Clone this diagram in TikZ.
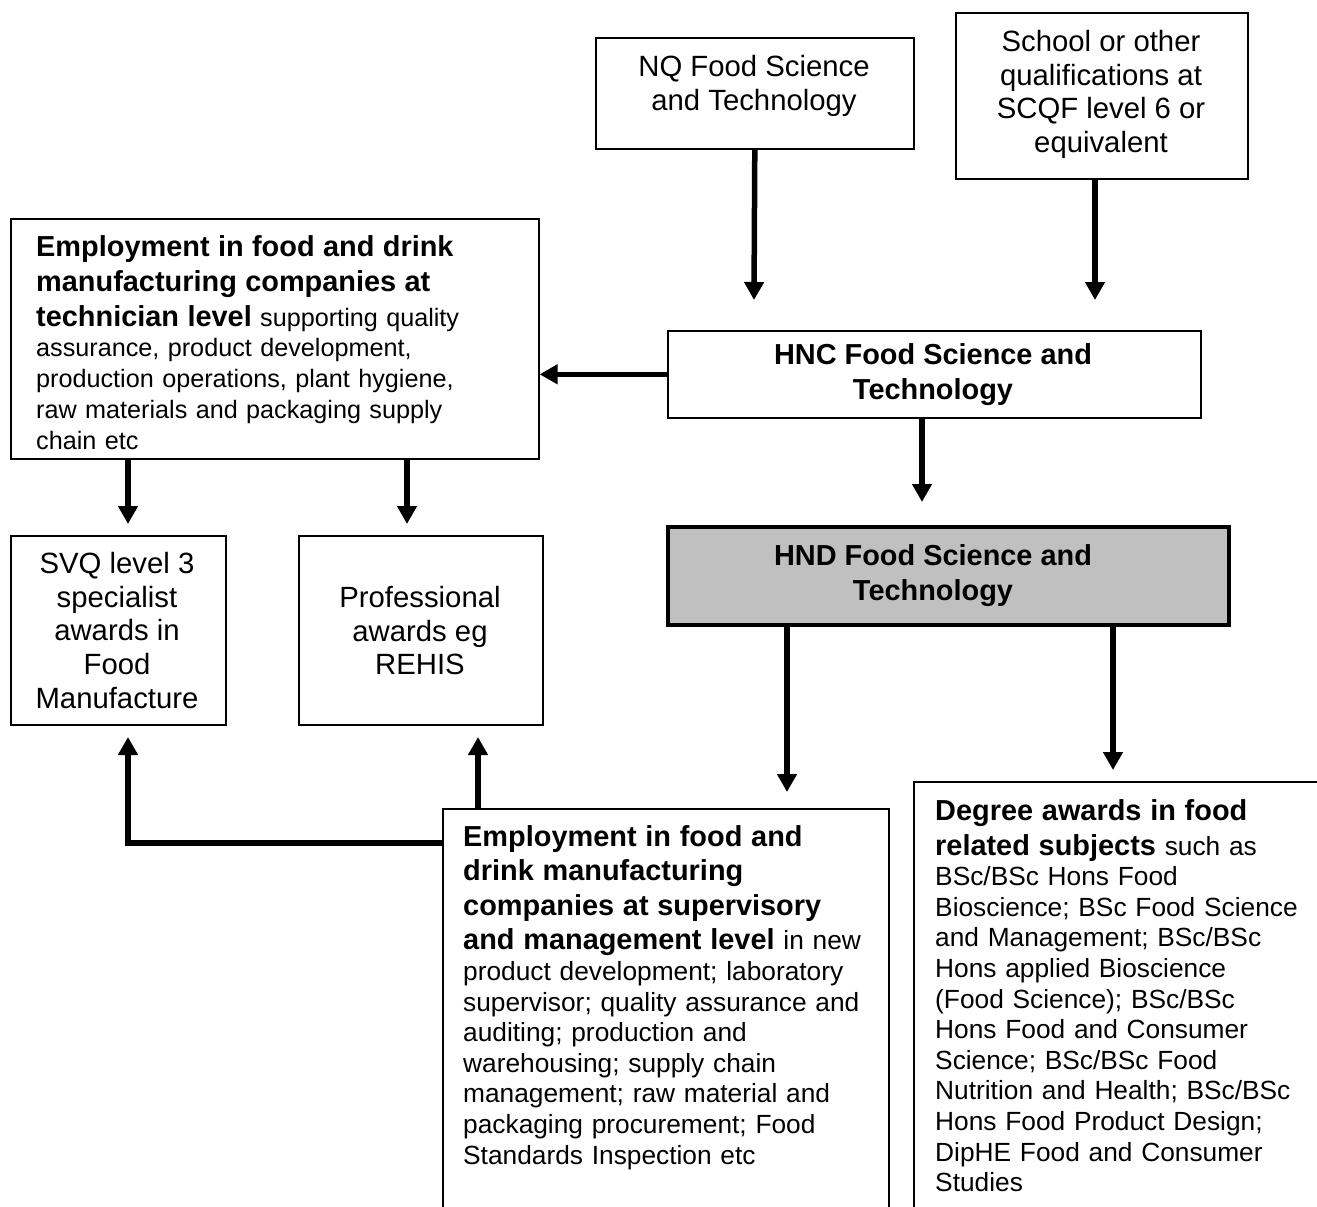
\documentclass[tikz,border=0pt]{standalone}
\usepackage{fontspec}
\setmainfont{Liberation Sans}
\usetikzlibrary{arrows.meta}
\newcommand\topf{\fontsize{29.3}{33.7}\selectfont}
\newcommand\bodyf{\fontsize{26.3}{30.6}\selectfont}
\newcommand\smallbodyf{\fontsize{25.2}{30.8}\selectfont}
\newcommand\bigb{\fontsize{28.9}{35}\selectfont\bfseries}
\begin{document}
\begin{tikzpicture}[x=1pt,y=-1pt,
  box/.style={draw, line width=1.6pt, fill=white, inner sep=0pt, anchor=north west},
  hndbox/.style={draw, line width=3.8pt, fill={rgb,255:red,192;green,192;blue,192}, inner sep=0pt, anchor=north west},
  arr/.style={line width=5.5pt, -{Triangle[length=18pt,width=19pt]}},
  ctext/.style={anchor=north, align=center, inner sep=0pt},
  ltext/.style={anchor=north west, align=left, inner sep=0pt}]
\useasboundingbox (0,0) rectangle (1317,1207);
\fill[white] (0,0) rectangle (1317,1207);
\clip (0,0) rectangle (1317,1207);

% boxes
\node[box, minimum width=318pt, minimum height=111pt] (nq) at (595,37) {};
\node[box, minimum width=292pt, minimum height=166pt] (school) at (955,12) {};
\node[box, minimum width=528pt, minimum height=240pt] (emp1) at (10,218) {};
\node[box, minimum width=533pt, minimum height=87pt] (hnc) at (667,330) {};
\node[hndbox, minimum width=561pt, minimum height=98pt] (hnd) at (666,525) {};
\node[box, minimum width=215pt, minimum height=189pt] (svq) at (10,535) {};
\node[box, minimum width=244pt, minimum height=189pt] (prof) at (298,535) {};
\node[box, minimum width=446pt, minimum height=440pt] (emp2) at (442,808) {};
\node[box, minimum width=440pt, minimum height=460pt] (deg) at (913,781) {};

% texts
\node[ctext, font=\topf] (nqt) at (754,55) {NQ Food Science\\and Technology};
\node[ctext, font=\topf] (schoolt) at (1101,30) {School or other\\qualifications at\\SCQF level 6 or\\equivalent};
\node[ctext, font=\bigb] (hnct) at (933,343) {HNC Food Science and\\Technology};
\node[ctext, font=\bigb] (hndt) at (933,544) {HND Food Science and\\Technology};
\node[ctext, font=\topf] (svqt) at (117,552) {SVQ level 3\\specialist\\awards in\\Food\\Manufacture};
\node[ctext, font=\topf] (proft) at (420,586) {Professional\\awards eg\\REHIS};

\node[ltext, text width=560pt, font=\smallbodyf] (emp1t) at (36,235) {%
{\bigb Employment in food and drink}\\[4.2pt]
{\bigb manufacturing companies at}\\[4.2pt]
{\bigb technician level} supporting quality\\
assurance, product development,\\
production operations, plant hygiene,\\
raw materials and packaging supply\\
chain etc};

\node[ltext, text width=560pt, font=\bodyf] (emp2t) at (463,825) {%
{\bigb Employment in food and}\\[4pt]
{\bigb drink manufacturing}\\[4pt]
{\bigb companies at supervisory}\\[4pt]
{\bigb and management level} in new\\
product development; laboratory\\
supervisor; quality assurance and\\
auditing; production and\\
warehousing; supply chain\\
management; raw material and\\
packaging procurement; Food\\
Standards Inspection etc};

\node[ltext, text width=560pt, font=\bodyf] (degt) at (935,799) {%
{\bigb Degree awards in food}\\[4.4pt]
{\bigb related subjects} such as\\
BSc/BSc Hons Food\\
Bioscience; BSc Food Science\\
and Management; BSc/BSc\\
Hons applied Bioscience\\
(Food Science); BSc/BSc\\
Hons Food and Consumer\\
Science; BSc/BSc Food\\
Nutrition and Health; BSc/BSc\\
Hons Food Product Design;\\
DipHE Food and Consumer\\
Studies};

% connector end points
\coordinate (nqE) at (754,300);
\coordinate (schE) at (1095,300);
\coordinate (hncE) at (922,502);
\coordinate (svqE) at (128,524);
\coordinate (profE) at (407,524);
\coordinate (emp2E) at (787,792);
\coordinate (degE) at (1113,770);
\coordinate (profU) at (478,737);
\coordinate (svqU) at (128,737);
\coordinate (emp2L) at (442,843);

% connectors
\draw[arr] (nq.south) -- (nqE);
\draw[arr] (school.south -| schE) -- (schE);
\draw[arr] (hnc.west) -- (emp1.east |- hnc.west);
\draw[arr] (hnc.south -| hncE) -- (hncE);
\draw[arr] (emp1.south -| svqE) -- (svqE);
\draw[arr] (emp1.south -| profE) -- (profE);
\draw[arr] (hnd.south -| emp2E) -- (emp2E);
\draw[arr] (hnd.south -| degE) -- (degE);
\draw[arr] (emp2.north -| profU) -- (profU);
\draw[arr] (emp2.west |- emp2L) -| (svqU);
\end{tikzpicture}
\end{document}
